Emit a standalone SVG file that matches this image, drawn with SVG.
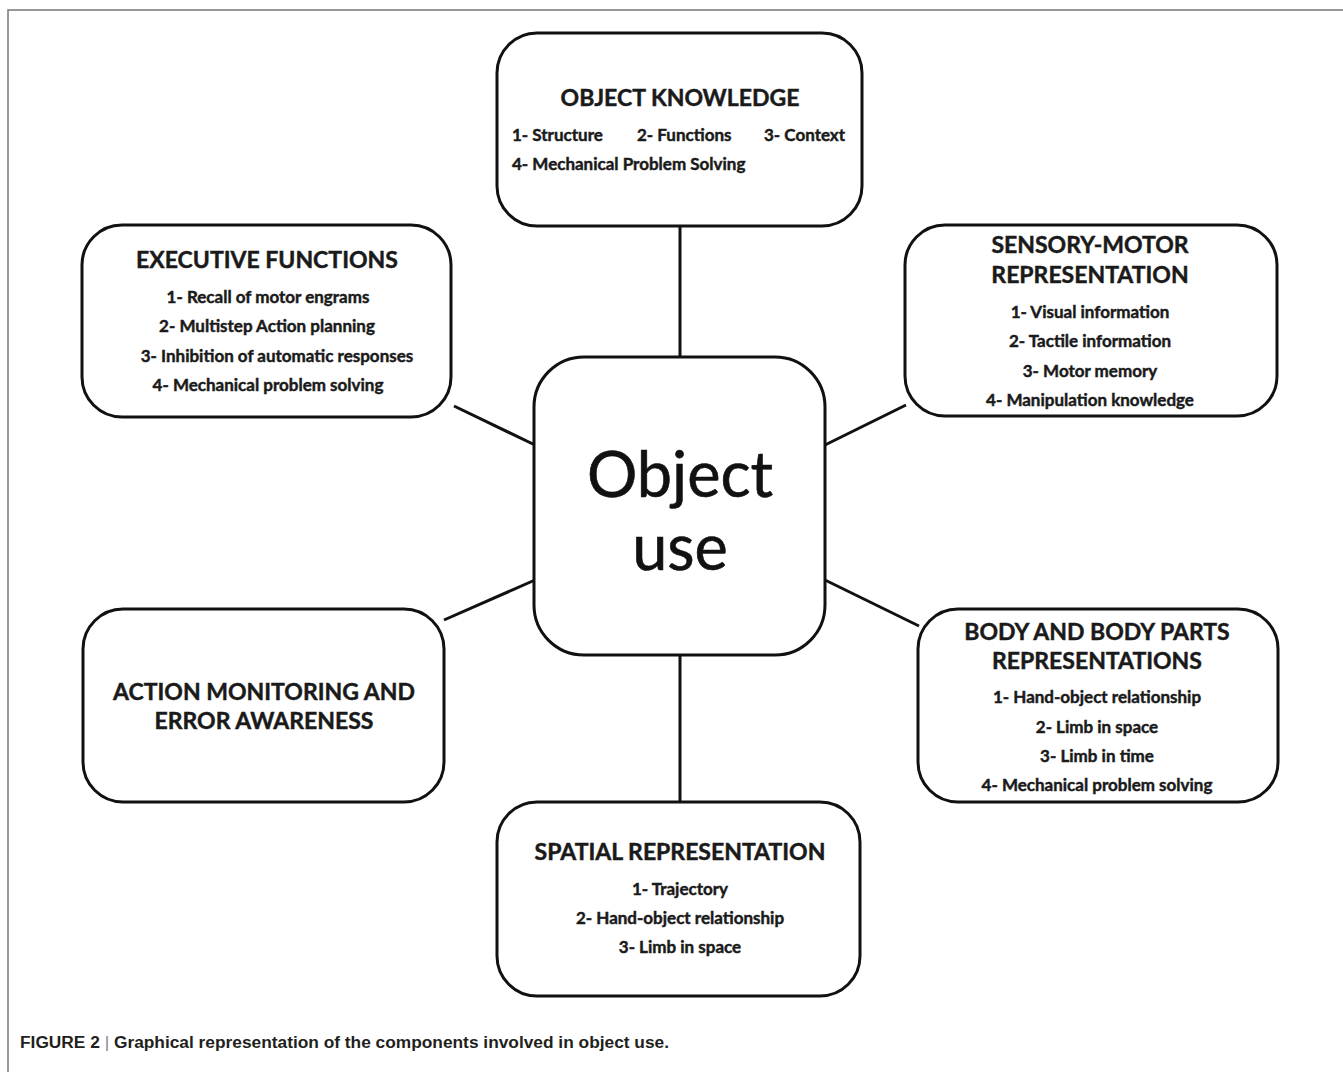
<svg xmlns="http://www.w3.org/2000/svg" width="1343" height="1072" viewBox="0 0 1343 1072">
<style>
.box{fill:#fff;stroke:#111;stroke-width:3}
.con{stroke:#111;stroke-width:3;fill:none}
.t{font-family:Lato,"Open Sans",sans-serif;font-weight:bold;fill:#1a1a1a;stroke:#1a1a1a;stroke-width:0.45;text-anchor:middle}
.h{font-size:23px}
.i{font-size:17px}
.l{font-size:17px;text-anchor:start}
.big{font-family:Lato,"Open Sans",sans-serif;font-size:63px;fill:#111;stroke:#111;stroke-width:0.6;text-anchor:middle}
.cap{font-family:"Liberation Sans",Arial,sans-serif;font-weight:bold;font-size:16px;fill:#231f20}
</style>
<rect width="1343" height="1072" fill="#fff"/>
<path d="M8 1072V10H1343" fill="none" stroke="#777" stroke-width="1.5"/>
<g id="connectors">
<line class="con" x1="680" y1="226" x2="680" y2="358"/>
<line class="con" x1="680" y1="655" x2="680" y2="802"/>
<line class="con" x1="454" y1="406" x2="535" y2="445"/>
<line class="con" x1="825" y1="445" x2="906" y2="405"/>
<line class="con" x1="444" y1="620" x2="535" y2="580"/>
<line class="con" x1="825" y1="580" x2="919" y2="626"/>
</g>
<g id="object-knowledge">
<rect class="box" x="497" y="33" width="365" height="193" rx="40"/>
<text class="t h" x="680" y="106">OBJECT KNOWLEDGE</text>
<text class="t l" x="512" y="141">1- Structure</text>
<text class="t l" x="637" y="141">2- Functions</text>
<text class="t l" x="764" y="141">3- Context</text>
<text class="t l" x="512" y="170">4- Mechanical Problem Solving</text>
</g>
<g id="executive-functions">
<rect class="box" x="82" y="225" width="369" height="192" rx="40"/>
<text class="t h" x="267" y="268">EXECUTIVE FUNCTIONS</text>
<text class="t i" x="268" y="303">1- Recall of motor engrams</text>
<text class="t i" x="267" y="332">2- Multistep Action planning</text>
<text class="t i" x="277" y="362">3- Inhibition of automatic responses</text>
<text class="t i" x="268" y="391">4- Mechanical problem solving</text>
</g>
<g id="sensory-motor">
<rect class="box" x="905" y="225" width="372" height="191" rx="40"/>
<text class="t h" x="1090" y="253">SENSORY-MOTOR</text>
<text class="t h" x="1090" y="283">REPRESENTATION</text>
<text class="t i" x="1090" y="318">1- Visual information</text>
<text class="t i" x="1090" y="347">2- Tactile information</text>
<text class="t i" x="1090" y="377">3- Motor memory</text>
<text class="t i" x="1090" y="406">4- Manipulation knowledge</text>
</g>
<g id="object-use">
<rect class="box" x="534" y="357" width="291" height="298" rx="50"/>
<text class="big" x="680" y="497">Object</text>
<text class="big" x="680" y="570">use</text>
</g>
<g id="action-monitoring">
<rect class="box" x="83" y="609" width="361" height="193" rx="40"/>
<text class="t h" x="264" y="700">ACTION MONITORING AND</text>
<text class="t h" x="264" y="729">ERROR AWARENESS</text>
</g>
<g id="body-parts">
<rect class="box" x="918" y="609" width="360" height="193" rx="40"/>
<text class="t h" x="1097" y="640">BODY AND BODY PARTS</text>
<text class="t h" x="1097" y="669">REPRESENTATIONS</text>
<text class="t i" x="1097" y="703">1- Hand-object relationship</text>
<text class="t i" x="1097" y="733">2- Limb in space</text>
<text class="t i" x="1097" y="762">3- Limb in time</text>
<text class="t i" x="1097" y="791">4- Mechanical problem solving</text>
</g>
<g id="spatial">
<rect class="box" x="497" y="802" width="363" height="194" rx="40"/>
<text class="t h" x="680" y="860">SPATIAL REPRESENTATION</text>
<text class="t i" x="680" y="895">1- Trajectory</text>
<text class="t i" x="680" y="924">2- Hand-object relationship</text>
<text class="t i" x="680" y="953">3- Limb in space</text>
</g>
<text class="cap" x="20" y="1048" textLength="649" lengthAdjust="spacingAndGlyphs">FIGURE 2 <tspan font-weight="normal" fill="#888">|</tspan> Graphical representation of the components involved in object use.</text>
</svg>
